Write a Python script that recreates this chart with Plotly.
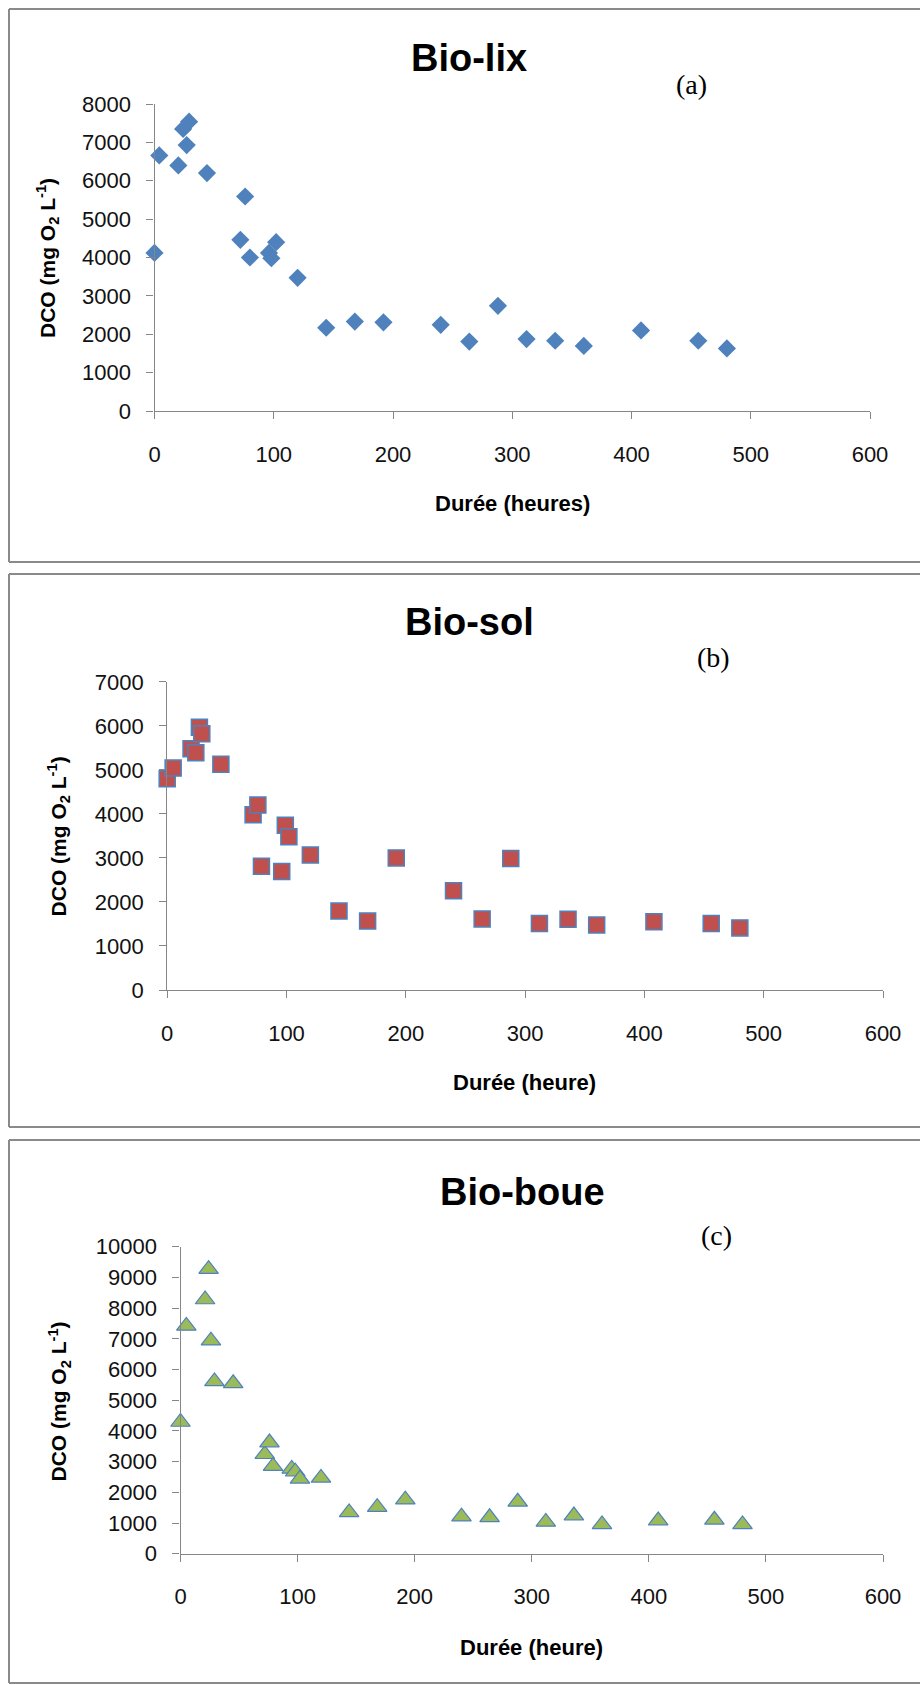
import plotly.graph_objects as go

# ---------------- data ----------------
t_lix = [0, 4, 20, 24, 27, 29, 44, 72, 76, 80, 96, 98, 102, 120, 144, 168, 192,
         240, 264, 288, 312, 336, 360, 408, 456, 480]
dco_lix = [4120, 6660, 6400, 7350, 6930, 7540, 6200, 4460, 5590, 4000, 4120, 3980,
           4400, 3470, 2170, 2330, 2310, 2245, 1810, 2740, 1875, 1830, 1695, 2100,
           1830, 1630]

t_sol = [0, 5, 20, 24, 27, 29, 45, 72, 76, 79, 96, 99, 102, 120, 144, 168, 192,
         240, 264, 288, 312, 336, 360, 408, 456, 480]
dco_sol = [4800, 5040, 5480, 5390, 5970, 5820, 5130, 3980, 4200, 2810, 2690, 3740,
           3480, 3066, 1793, 1565, 3000, 2255, 1614, 2985, 1509, 1606, 1476, 1549,
           1509, 1411]

t_boue = [0, 5, 21, 24, 26, 29, 45, 72, 76, 79, 95, 98, 102, 120, 144, 168, 192,
          240, 264, 288, 312, 336, 360, 408, 456, 480]
dco_boue = [4290, 7420, 8280, 9270, 6940, 5610, 5550, 3240, 3620, 2850, 2760, 2670,
            2440, 2470, 1345, 1517, 1759, 1207, 1184, 1690, 1034, 1241, 954, 1080,
            1103, 954]

titles = ["Bio-lix", "Bio-sol", "Bio-boue"]
tags = ["(a)", "(b)", "(c)"]
xtitles = ["Durée (heures)", "Durée (heure)", "Durée (heure)"]
ytitle = "DCO (mg O<sub>2</sub> L<sup>-1</sup>)"
ymax = [8000, 7000, 10000]

# ---------------- layout helpers ----------------
W, H = 920, 1685
def px(x):
    return x / W
def py(y):
    return 1 - y / H

FONT = "Liberation Sans, Arial, sans-serif"
AXC = "#868686"
BOXC = "#8A8A8A"

fig = go.Figure()

# panel geometry (pixels)
panels = [
    dict(x0=154.5, x1=870, ybot=411, ytop=104, title=(469, 58), tag=(691, 84.5),
         yt=(47, 258), xt=(512, 503.5), box=(9, 562)),
    dict(x0=167.2, x1=883, ybot=990, ytop=681.8, title=(469, 622.5), tag=(713.5, 657.5),
         yt=(58.7, 836.7), xt=(524, 1082), box=(574, 1127)),
    dict(x0=180.5, x1=883, ybot=1553.7, ytop=1246.7, title=(522, 1192), tag=(716, 1235),
         yt=(59, 1401.5), xt=(531, 1647), box=(1140, 1683)),
]

series = [
    (t_lix, dco_lix, dict(symbol="diamond", size=14, color="#4F81BD",
                          line=dict(color="#4F81BD", width=0))),
    (t_sol, dco_sol, dict(symbol="square", size=16, color="#C0504D",
                          line=dict(color="#4F81BD", width=1.5))),
    (t_boue, dco_boue, dict(symbol="triangle-up", size=17, color="#9BBB59",
                            line=dict(color="#4F81BD", width=1.2))),
]

annotations = []
shapes = []
for i, (p, (xs, ys, mk)) in enumerate(zip(panels, series)):
    n = "" if i == 0 else str(i + 1)
    fig.add_trace(go.Scatter(x=xs, y=ys, mode="markers", marker=mk,
                             xaxis="x" + n, yaxis="y" + n, cliponaxis=False,
                             showlegend=False, hoverinfo="skip"))
    common = dict(showgrid=False, zeroline=False, showline=True, linecolor=AXC,
                  linewidth=1.3, ticks="outside", ticklen=7, tickcolor=AXC,
                  tickwidth=1.3, automargin=False,
                  tickfont=dict(family=FONT, size=22, color="#111"))
    fig.layout["xaxis" + n] = dict(domain=[px(p["x0"]), px(p["x1"])], range=[0, 600],
                                   dtick=100, tick0=0, anchor="y" + n,
                                   ticklabelstandoff=16, **common)
    fig.layout["yaxis" + n] = dict(domain=[py(p["ybot"]), py(p["ytop"])],
                                   range=[0, ymax[i]], dtick=1000, tick0=0,
                                   tickformat="d", anchor="x" + n,
                                   ticklabelstandoff=11, **common)
    annotations += [
        dict(text=titles[i], x=px(p["title"][0]), y=py(p["title"][1]),
             font=dict(family=FONT, size=38, color="#000", weight="bold")),
        dict(text=tags[i], x=px(p["tag"][0]), y=py(p["tag"][1]),
             font=dict(family="Liberation Serif, Times New Roman, serif", size=28,
                       color="#000")),
        dict(text=ytitle, x=px(p["yt"][0]), y=py(p["yt"][1]),
             textangle=-90, font=dict(family=FONT, size=21, color="#000",
                                      weight="bold")),
        dict(text=xtitles[i], x=px(p["xt"][0]), y=py(p["xt"][1]),
             font=dict(family=FONT, size=22, color="#000", weight="bold")),
    ]
    # panel frame: top, left, bottom edges (right edge lies outside the page)
    top, bot = p["box"]
    for (xa, ya, xb, yb) in [(9, top, 920, top), (9, top, 9, bot), (9, bot, 920, bot)]:
        shapes.append(dict(type="line", xref="paper", yref="paper",
                           x0=px(xa), y0=py(ya), x1=px(xb), y1=py(yb),
                           line=dict(color=BOXC, width=2)))

for a in annotations:
    a.update(xref="paper", yref="paper", xanchor="center", yanchor="middle",
             showarrow=False)

fig.update_layout(width=W, height=H, autosize=False,
                  margin=dict(l=0, r=0, t=0, b=0, pad=0, autoexpand=False),
                  paper_bgcolor="white", plot_bgcolor="white",
                  annotations=annotations, shapes=shapes)

fig.write_html("out.html", config={"displayModeBar": False, "responsive": False},
               post_script="document.body.style.margin='0px';")
